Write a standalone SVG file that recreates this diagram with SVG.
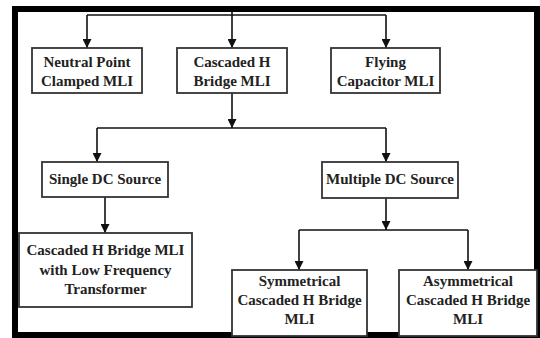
<svg xmlns="http://www.w3.org/2000/svg" width="540" height="338" viewBox="0 0 540 338">
<defs>
<marker id="ah" viewBox="0 0 10 10" refX="10" refY="5" markerWidth="9" markerHeight="9" markerUnits="userSpaceOnUse" orient="auto">
<path d="M0,0 L10,5 L0,10 Z" fill="#111"/>
</marker>
</defs>
<rect x="0" y="0" width="540" height="338" fill="#fff"/>
<rect x="15" y="9" width="522" height="326" fill="none" stroke="#000" stroke-width="6"/>
<g id="connectors" fill="none" stroke="#111" stroke-width="1.6">
<path d="M87,15 L386,15"/>
<path d="M87,15 L87,48" marker-end="url(#ah)"/>
<path d="M232,12 L232,48" marker-end="url(#ah)"/>
<path d="M386,15 L386,48" marker-end="url(#ah)"/>
<path d="M232,93 L232,128" marker-end="url(#ah)"/>
<path d="M97,128 L386,128"/>
<path d="M97,128 L97,162" marker-end="url(#ah)"/>
<path d="M386,128 L386,162" marker-end="url(#ah)"/>
<path d="M105,197 L105,233" marker-end="url(#ah)"/>
<path d="M386,198 L386,230" marker-end="url(#ah)"/>
<path d="M299,230 L468,230"/>
<path d="M299,230 L299,270" marker-end="url(#ah)"/>
<path d="M468,230 L468,270" marker-end="url(#ah)"/>
</g>
<g id="nodes" font-family="Times New Roman" font-size="15" font-weight="bold" text-anchor="middle" fill="#222">
<g id="npc">
<rect x="32" y="48" width="110" height="45" fill="#fff" stroke="#333" stroke-width="1.8"/>
<text x="87" y="67">Neutral Point</text>
<text x="87" y="86">Clamped MLI</text>
</g>
<g id="chb">
<rect x="177" y="48" width="110" height="45" fill="#fff" stroke="#333" stroke-width="1.8"/>
<text x="232" y="67">Cascaded H</text>
<text x="232" y="86">Bridge MLI</text>
</g>
<g id="fc">
<rect x="331" y="48" width="109" height="45" fill="#fff" stroke="#333" stroke-width="1.8"/>
<text x="385.5" y="67">Flying</text>
<text x="385.5" y="86">Capacitor MLI</text>
</g>
<g id="single">
<rect x="42" y="162" width="126" height="35" fill="#fff" stroke="#333" stroke-width="1.8"/>
<text x="105" y="184">Single DC Source</text>
</g>
<g id="multiple">
<rect x="322" y="162" width="136" height="36" fill="#fff" stroke="#333" stroke-width="1.8"/>
<text x="390" y="184">Multiple DC Source</text>
</g>
<g id="chblft">
<rect x="19" y="233" width="173" height="74" fill="#fff" stroke="#333" stroke-width="1.8"/>
<text x="105.5" y="255">Cascaded H Bridge MLI</text>
<text x="105.5" y="275">with Low Frequency</text>
<text x="105.5" y="294">Transformer</text>
</g>
<g id="sym">
<rect x="232" y="270" width="135" height="66" fill="#fff" stroke="#333" stroke-width="1.8"/>
<text x="299.5" y="286">Symmetrical</text>
<text x="299.5" y="305">Cascaded H Bridge</text>
<text x="299.5" y="324">MLI</text>
</g>
<g id="asym">
<rect x="399" y="270" width="138" height="66" fill="#fff" stroke="#333" stroke-width="1.8"/>
<text x="468" y="286">Asymmetrical</text>
<text x="468" y="305">Cascaded H Bridge</text>
<text x="468" y="324">MLI</text>
</g>
</g>
</svg>
